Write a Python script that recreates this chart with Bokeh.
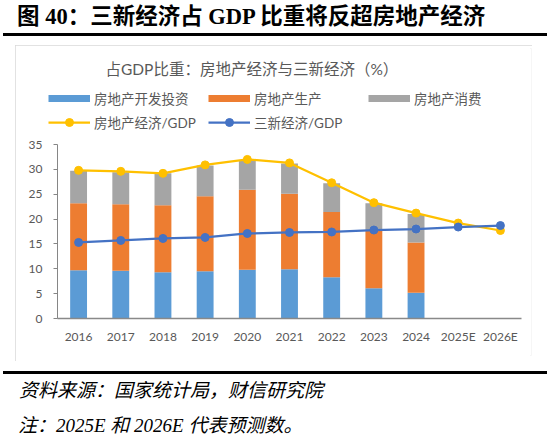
from bokeh.plotting import figure
from bokeh.layouts import column
from bokeh.models import (Range1d, Legend, LegendItem, FixedTicker,
                          ColumnDataSource, Div, Label)
from bokeh.embed import file_html
from bokeh.resources import INLINE

# data (% of GDP)
years = ["2016", "2017", "2018", "2019", "2020", "2021", "2022", "2023", "2024", "2025E", "2026E"]
bar_years = years[:9]
dev_invest = [9.7, 9.6, 9.3, 9.5, 9.8, 9.9, 8.3, 6.1, 5.2]
production = [13.5, 13.4, 13.5, 15.1, 16.1, 15.2, 13.1, 11.6, 10.1]
consumption = [6.5, 6.4, 6.4, 6.2, 6.0, 6.1, 5.8, 5.5, 5.7]
real_estate_gdp = [29.8, 29.6, 29.2, 30.9, 32.0, 31.3, 27.3, 23.3, 21.2, 19.2, 17.7]
new_econ_gdp = [15.3, 15.7, 16.1, 16.3, 17.1, 17.3, 17.4, 17.8, 18.0, 18.4, 18.7]
y_ticks = [0, 5, 10, 15, 20, 25, 30, 35]

title_text = "图 40：三新经济占 GDP 比重将反超房地产经济"
chart_title = "占GDP比重：房地产经济与三新经济（%）"
source_text = "资料来源：国家统计局，财信研究院"
note_text = "注：2025E 和 2026E 代表预测数。"

BLUE, ORANGE, GRAY = "#5B9BD5", "#ED7D31", "#A5A5A5"
YELLOW, DARK_BLUE = "#FFC000", "#4472C4"
TXT = "#595959"
SANS = "Lato, Noto Sans CJK SC"
SERIF_CSS = "'Liberation Serif', 'Noto Sans CJK SC', serif"

# category slots on a numeric axis: slot i spans [i, i+1]
x_pos = [i + 0.5 for i in range(len(years))]
bar_x = x_pos[:len(bar_years)]

# chart box sits at x 15..532, y 45..361 of the page; the frame covers nearly
# all of it so the chart title, legend and axis labels can live inside it
BOX_X, BOX_Y, BOX_W, BOX_H = 15, 45, 517, 316
F_LEFT, F_RIGHT, F_TOP, F_BOTTOM = 5, 1, 3, 6
AXIS_X, AXIS_Y = 57, 318          # page position of the axes' origin
unit = 464 / len(years)           # px per category slot
ppu = 174 / 35                    # px per percentage point
frame_left = BOX_X + F_LEFT
frame_top = BOX_Y + F_TOP
frame_bottom = BOX_Y + BOX_H - F_BOTTOM
x_start = -(AXIS_X - frame_left) / unit
x_end = x_start + (BOX_W - F_LEFT - F_RIGHT) / unit
y_start = -(frame_bottom - AXIS_Y) / ppu
y_end = (AXIS_Y - frame_top) / ppu

p = figure(width=BOX_W, height=BOX_H, title=None,
           x_range=Range1d(x_start, x_end), y_range=Range1d(y_start, y_end),
           output_backend="svg", toolbar_location=None,
           min_border_left=F_LEFT, min_border_right=F_RIGHT,
           min_border_top=F_TOP, min_border_bottom=F_BOTTOM,
           margin=(8, 0, 0, BOX_X),
           styles={"outline": "2px solid #D9D9D9", "outline-offset": "-2px"})
p.outline_line_color = None
p.xgrid.visible = False
p.ygrid.visible = False

src = ColumnDataSource(dict(x=bar_x, dev=dev_invest, prod=production, cons=consumption))
p.vbar_stack(["dev", "prod", "cons"], x="x", width=0.4, color=[BLUE, ORANGE, GRAY],
             line_color=None, source=src)

re_line = p.line(x_pos, real_estate_gdp, line_color=YELLOW, line_width=2.25)
re_dot = p.scatter(x_pos, real_estate_gdp, size=8, color=YELLOW)
ne_line = p.line(x_pos, new_econ_gdp, line_color=DARK_BLUE, line_width=2.25)
ne_dot = p.scatter(x_pos, new_econ_gdp, size=8, color=DARK_BLUE)

# legend swatches for the bar series (one NaN point, nothing drawn in the plot)
nan = float("nan")
sw_blue = p.line([x_pos[0]], [nan], line_color=BLUE, line_width=7)
sw_orange = p.line([x_pos[0]], [nan], line_color=ORANGE, line_width=7)
sw_gray = p.line([x_pos[0]], [nan], line_color=GRAY, line_width=7)

p.yaxis.fixed_location = 0
p.yaxis.bounds = (0, 35)
p.yaxis.ticker = FixedTicker(ticks=y_ticks)
p.yaxis.minor_tick_line_color = None
p.yaxis.major_tick_in = 0
p.yaxis.major_tick_out = 4
p.yaxis.axis_line_color = "#868686"
p.yaxis.major_tick_line_color = "#868686"
p.yaxis.major_label_standoff = 11
p.xaxis.fixed_location = 0
p.xaxis.bounds = (0, len(years))
p.xaxis.ticker = FixedTicker(ticks=x_pos)
p.xaxis.major_label_overrides = {x: yr for x, yr in zip(x_pos, years)}
p.xaxis.major_tick_line_color = None
p.xaxis.minor_tick_line_color = None
p.xaxis.axis_line_color = "#898989"
p.xaxis.axis_line_width = 1.5
p.xaxis.major_label_standoff = 4
for ax in (p.xaxis, p.yaxis):
    ax.major_label_text_font = "Lato"
    ax.major_label_text_font_size = "12px"
    ax.major_label_text_color = TXT


# page position -> offset from the frame's bottom-left corner
def fx(px):
    return px - frame_left


def fy(py):
    return frame_bottom - py


p.add_layout(Label(x=fx(105), y=fy(68), x_units="screen", y_units="screen", text=chart_title,
                   text_font=SANS, text_font_size="15.5px", text_color=TXT,
                   text_baseline="middle"))


def add_legend(label, renderers, px, py):
    p.add_layout(Legend(items=[LegendItem(label=label, renderers=renderers)],
                        location=(fx(px), fy(py + 10)), padding=0, margin=0, spacing=0,
                        glyph_width=42, glyph_height=20, label_height=20, label_standoff=4,
                        label_text_font=SANS, label_text_font_size="13.5px",
                        label_text_color=TXT, border_line_color=None,
                        background_fill_alpha=0))


add_legend("房地产开发投资", [sw_blue], 48, 98)
add_legend("房地产生产", [sw_orange], 208, 98)
add_legend("房地产消费", [sw_gray], 368, 98)
add_legend("房地产经济/GDP", [re_line, re_dot], 48, 122)
add_legend("三新经济/GDP", [ne_line, ne_dot], 208, 122)

header = Div(width=550, height=37, margin=(0, 0, 0, 0), text=(
    '<div style="position:relative;width:550px;height:37px;">'
    '<div style="position:absolute;left:17px;top:7px;white-space:nowrap;line-height:20px;'
    f'font-size:22.5px;font-weight:bold;font-family:{SERIF_CSS};color:#000;">{title_text}</div>'
    '<div style="position:absolute;left:3px;top:33px;width:544px;height:2.5px;background:#000;"></div>'
    '</div>'))

footer = Div(width=550, height=78, margin=(0, 0, 0, 0), text=(
    '<div style="position:relative;width:550px;height:78px;">'
    '<div style="position:absolute;left:3px;top:9.5px;width:544px;height:3px;background:#000;"></div>'
    '<div style="position:absolute;left:19px;top:20px;white-space:nowrap;line-height:20px;'
    f'font-size:19px;font-style:italic;font-family:{SERIF_CSS};color:#000;">{source_text}</div>'
    '<div style="position:absolute;left:18px;top:55px;white-space:nowrap;line-height:20px;'
    f'font-size:19px;font-style:italic;font-family:{SERIF_CSS};color:#000;">{note_text}</div>'
    '</div>'))

root = column(header, p, footer, spacing=0, margin=(0, 0, 0, 0))

open("out.html", "w").write(file_html(root, INLINE))
